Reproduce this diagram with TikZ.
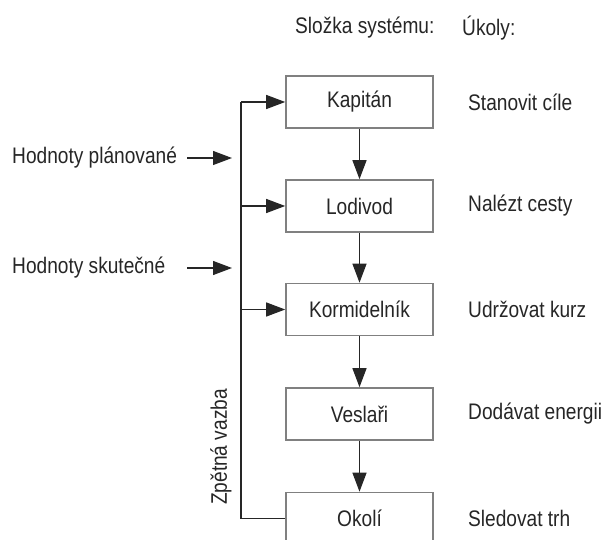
\documentclass[tikz,border=0pt]{standalone}
\usepackage{fontspec}
\setmainfont[FakeStretch=0.85]{Liberation Sans}
\usetikzlibrary{arrows.meta}
\begin{document}
\begin{tikzpicture}[x=1pt,y=-1pt,
  font=\fontsize{22.5}{25}\selectfont,
  box/.style={draw=black!50, line width=1.6pt, minimum width=147pt, minimum height=52pt, inner sep=0pt, fill=white, text=black!85},
  lbl/.style={anchor=west, inner sep=0pt, text=black!85},
  conn/.style={draw=black!85, line width=1.2pt},
  arr/.style={conn, -{Triangle[length=19pt,width=14pt]}}]
\useasboundingbox (0,0) rectangle (606,540);
% headers
\node[lbl] (h1) at (295,28) {Složka systému:};
\node[lbl] (h2) at (462,28) {Úkoly:};
% boxes
\node[box] (kap) at (359.5,102) {Kapitán};
\node[box] (lod) at (359.5,206) {Lodivod};
\node[box] (kor) at (359.5,309.5) {Kormidelník};
\node[box] (ves) at (359.5,414) {Veslaři};
\node[box] (oko) at (359.5,518.5) {Okolí};
% tasks
\node[lbl] (t1) at (468,102) {Stanovit cíle};
\node[lbl] (t2) at (468,206) {Nalézt cesty};
\node[lbl] (t3) at (468,309.5) {Udržovat kurz};
\node[lbl] (t4) at (468,414) {Dodávat energii};
\node[lbl] (t5) at (468,518.5) {Sledovat trh};
% down arrows
\draw[arr] (kap) -- (lod);
\draw[arr] (lod) -- (kor);
\draw[arr] (kor) -- (ves);
\draw[arr] (ves) -- (oko);
% feedback
\coordinate (fbB) at (241,518.5);
\coordinate (fbT) at (241,102);
\coordinate (fbL) at (241,206);
\coordinate (fbK) at (241,309.5);
\draw[conn] (oko.west) -- (fbB) -- (fbT);
\draw[arr] (fbT) -- (kap.west);
\draw[arr] (fbL) -- (lod.west);
\draw[arr] (fbK) -- (kor.west);
\node[rotate=90, inner sep=0pt, text=black!85] (zv) at (221,447) {Zpětná vazba};
% inputs
\node[lbl] (hp) at (12,158) {Hodnoty plánované};
\node[lbl] (hs) at (12,268) {Hodnoty skutečné};
\coordinate (hpS) at (187,158);
\coordinate (hpE) at (232,158);
\coordinate (hsS) at (187,268);
\coordinate (hsE) at (232,268);
\draw[arr] (hpS) -- (hpE);
\draw[arr] (hsS) -- (hsE);
\end{tikzpicture}
\end{document}
